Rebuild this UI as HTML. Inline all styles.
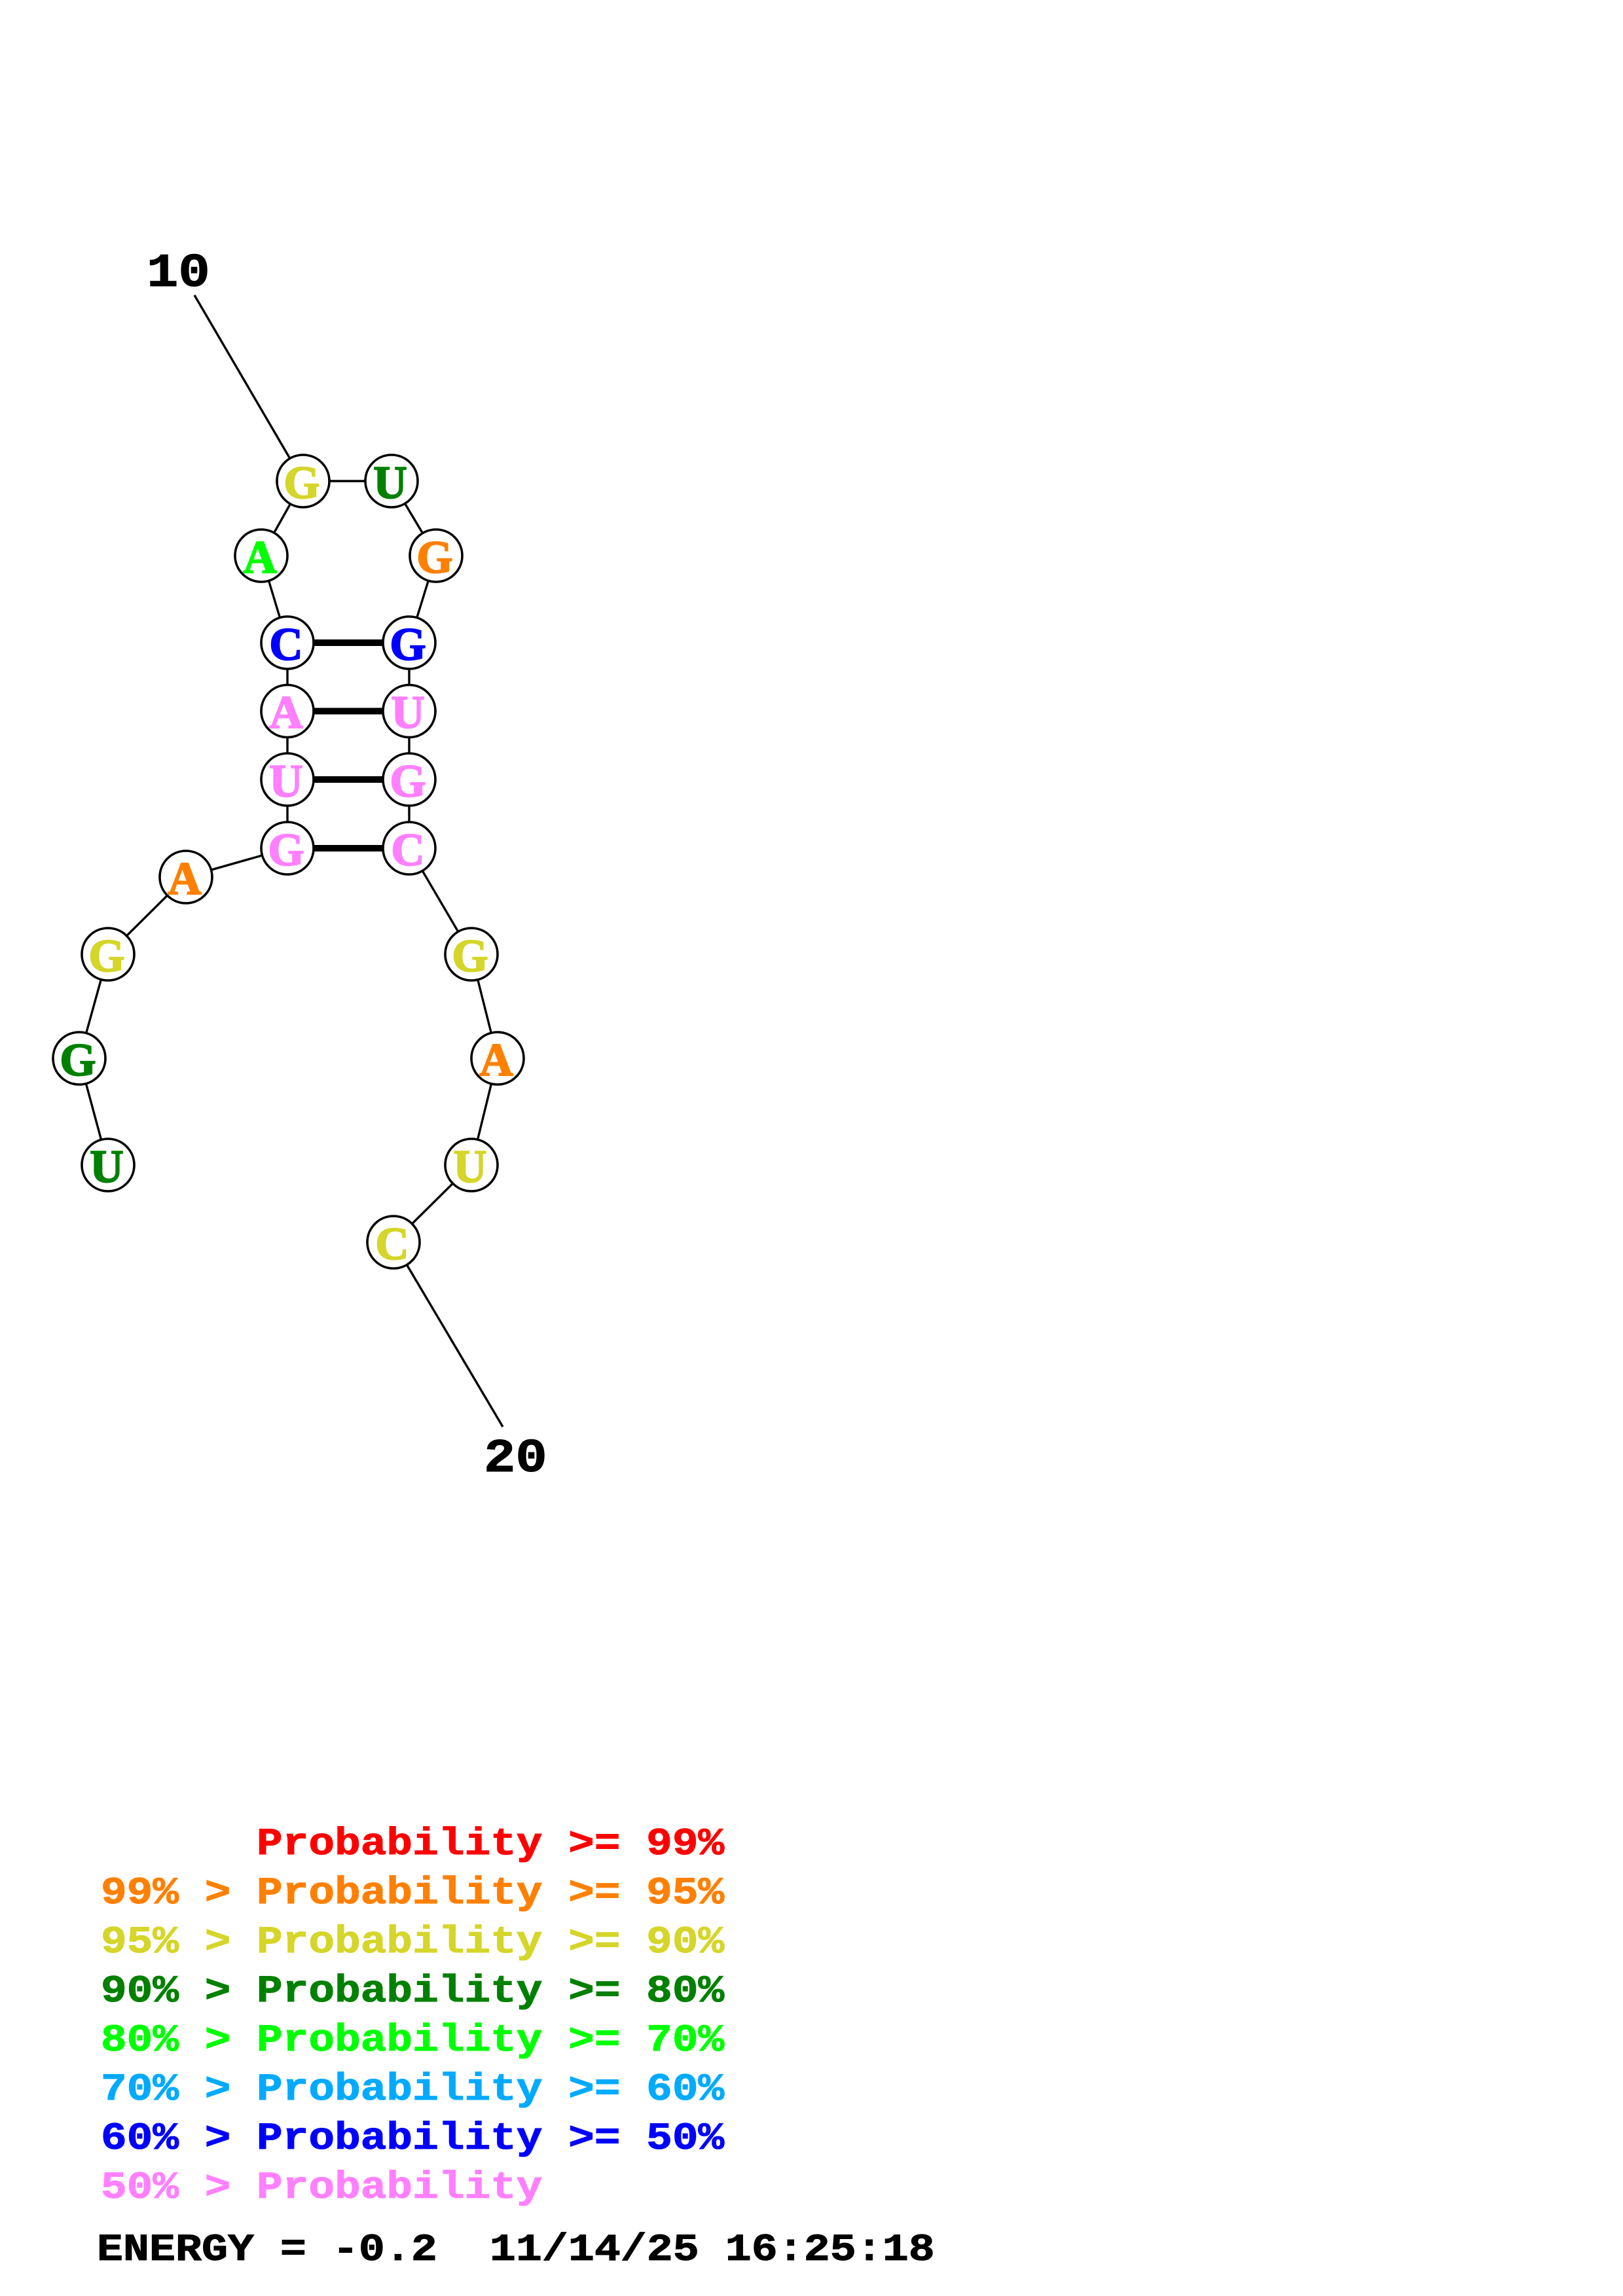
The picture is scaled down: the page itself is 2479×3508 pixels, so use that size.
<!DOCTYPE html>
<html><head><meta charset="utf-8"><style>
html,body{margin:0;padding:0;background:#fff;width:2479px;height:3508px;overflow:hidden}
svg{display:block}
text{font-family:"Liberation Mono",monospace;font-weight:bold;white-space:pre}
.n{font-family:"Liberation Serif",serif;font-size:71px;text-anchor:middle;stroke-width:2px}
.l{font-size:58px;stroke-width:1px}
</style></head><body>
<svg width="2479" height="3508" viewBox="0 0 2479 3508" xmlns="http://www.w3.org/2000/svg">
<rect width="2479" height="3508" fill="#fff"/>
<g stroke="#000" stroke-width="3.4" fill="none">
<path d="M297 451L463 735L598 735L666 849L625 982L625 1296L720 1458L760 1617L720 1780L601 1898L768 2180"/>
<path d="M463 735L399 849L439 982L439 1296L284 1340L165 1458L121 1617L165 1780"/>
</g>
<g stroke="#000" stroke-width="10">
<path d="M439 982H625M439 1086.500H625M439 1191H625M439 1296H625"/>
</g>
<g fill="#fff" stroke="#000" stroke-width="3.6">
<circle cx="463" cy="735" r="40"/><circle cx="598" cy="735" r="40"/>
<circle cx="399" cy="849" r="40"/><circle cx="666" cy="849" r="40"/>
<circle cx="439" cy="982" r="40"/><circle cx="625" cy="982" r="40"/>
<circle cx="439" cy="1086.500" r="40"/><circle cx="625" cy="1086.500" r="40"/>
<circle cx="439" cy="1191" r="40"/><circle cx="625" cy="1191" r="40"/>
<circle cx="439" cy="1296" r="40"/><circle cx="625" cy="1296" r="40"/>
<circle cx="284" cy="1340" r="40"/><circle cx="165" cy="1458" r="40"/>
<circle cx="121" cy="1617" r="40"/><circle cx="165" cy="1780" r="40"/>
<circle cx="720" cy="1458" r="40"/><circle cx="760" cy="1617" r="40"/>
<circle cx="720" cy="1780" r="40"/><circle cx="601" cy="1898" r="40"/>
</g>
<g class="nodes">
<text class="n" x="461" y="761" fill="#d5d52a" stroke="#d5d52a">G</text>
<text class="n" x="596" y="761" fill="#008000" stroke="#008000">U</text>
<text class="n" x="397" y="875" fill="#00ff00" stroke="#00ff00">A</text>
<text class="n" x="664" y="875" fill="#ff8000" stroke="#ff8000">G</text>
<text class="n" x="437" y="1008" fill="#0000ff" stroke="#0000ff">C</text>
<text class="n" x="623" y="1008" fill="#0000ff" stroke="#0000ff">G</text>
<text class="n" x="437" y="1112" fill="#ff80ff" stroke="#ff80ff">A</text>
<text class="n" x="623" y="1112" fill="#ff80ff" stroke="#ff80ff">U</text>
<text class="n" x="437" y="1217" fill="#ff80ff" stroke="#ff80ff">U</text>
<text class="n" x="623" y="1217" fill="#ff80ff" stroke="#ff80ff">G</text>
<text class="n" x="437" y="1322" fill="#ff80ff" stroke="#ff80ff">G</text>
<text class="n" x="623" y="1322" fill="#ff80ff" stroke="#ff80ff">C</text>
<text class="n" x="282" y="1366" fill="#ff8000" stroke="#ff8000">A</text>
<text class="n" x="163" y="1484" fill="#d5d52a" stroke="#d5d52a">G</text>
<text class="n" x="119" y="1643" fill="#008000" stroke="#008000">G</text>
<text class="n" x="163" y="1806" fill="#008000" stroke="#008000">U</text>
<text class="n" x="718" y="1484" fill="#d5d52a" stroke="#d5d52a">G</text>
<text class="n" x="758" y="1643" fill="#ff8000" stroke="#ff8000">A</text>
<text class="n" x="718" y="1806" fill="#d5d52a" stroke="#d5d52a">U</text>
<text class="n" x="599" y="1924" fill="#d5d52a" stroke="#d5d52a">C</text>
</g>
<text transform="translate(224,437) scale(1.12,1)" font-size="72" fill="#000" stroke="#000" stroke-width="1">10</text>
<text transform="translate(739,2248) scale(1.12,1)" font-size="72" fill="#000" stroke="#000" stroke-width="1">20</text>
<g class="legend">
<text class="l" transform="translate(154,2833) scale(1.14,1)" fill="#ff0000" stroke="#ff0000">      Probability &gt;= 99%</text>
<text class="l" transform="translate(154,2908) scale(1.14,1)" fill="#ff8000" stroke="#ff8000">99% &gt; Probability &gt;= 95%</text>
<text class="l" transform="translate(154,2983) scale(1.14,1)" fill="#d5d52a" stroke="#d5d52a">95% &gt; Probability &gt;= 90%</text>
<text class="l" transform="translate(154,3058) scale(1.14,1)" fill="#008000" stroke="#008000">90% &gt; Probability &gt;= 80%</text>
<text class="l" transform="translate(154,3133) scale(1.14,1)" fill="#00ff00" stroke="#00ff00">80% &gt; Probability &gt;= 70%</text>
<text class="l" transform="translate(154,3208) scale(1.14,1)" fill="#00aaff" stroke="#00aaff">70% &gt; Probability &gt;= 60%</text>
<text class="l" transform="translate(154,3283) scale(1.14,1)" fill="#0000ff" stroke="#0000ff">60% &gt; Probability &gt;= 50%</text>
<text class="l" transform="translate(154,3358) scale(1.14,1)" fill="#ff80ff" stroke="#ff80ff">50% &gt; Probability</text>
<text class="l" transform="translate(148,3453) scale(1.149,1)" fill="#000" stroke="#000">ENERGY = -0.2  11/14/25 16:25:18</text>
</g>
</svg>
</body></html>
